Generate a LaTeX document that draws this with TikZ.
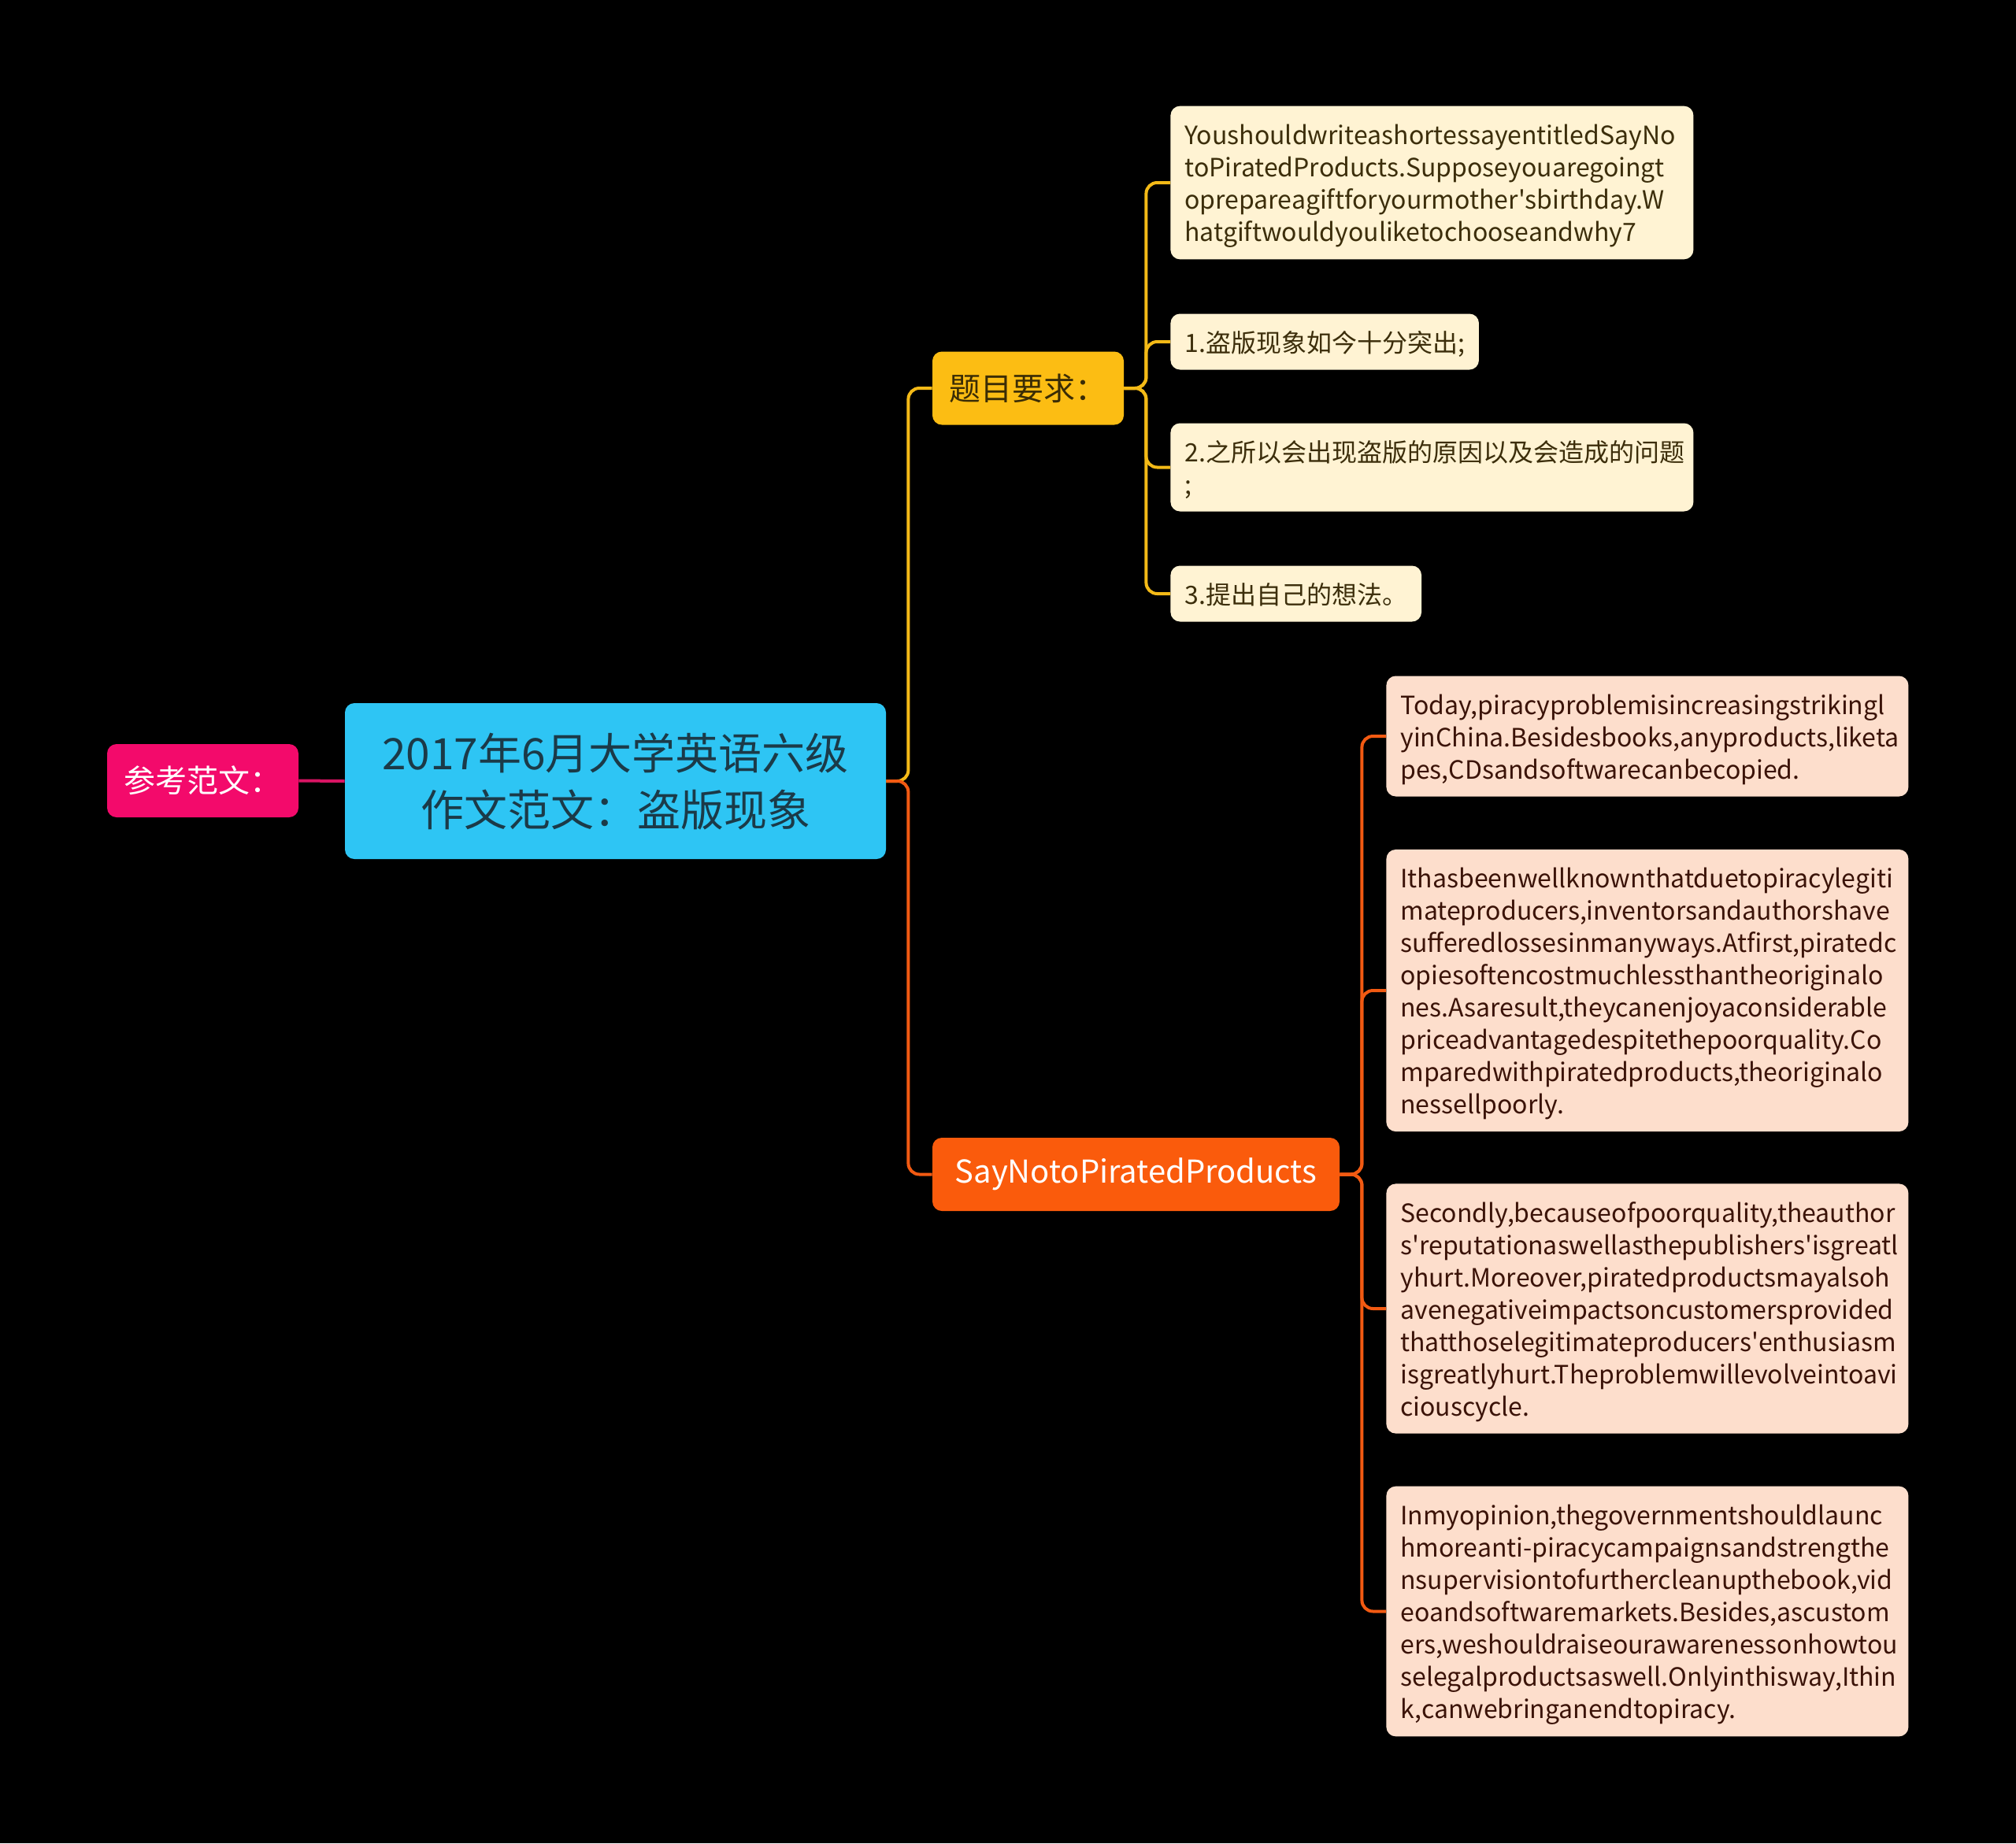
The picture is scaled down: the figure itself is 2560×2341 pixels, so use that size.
\documentclass[tikz,border=0pt]{standalone}
\usepackage{fontspec}
\setmainfont{Noto Sans CJK SC}

\definecolor{rootblue}{HTML}{2EC5F4}
\definecolor{roottext}{HTML}{1B3A48}
\definecolor{refpink}{HTML}{F30A6B}
\definecolor{askgold}{HTML}{FCBD13}
\definecolor{asktext}{HTML}{3A2C05}
\definecolor{sayorange}{HTML}{FA5B0C}
\definecolor{ycream}{HTML}{FFF3D3}
\definecolor{ybrown}{HTML}{3C2E0B}
\definecolor{opeach}{HTML}{FDDECC}
\definecolor{obrown}{HTML}{3B1308}
\definecolor{ycol}{HTML}{F4BA17}
\definecolor{ocol}{HTML}{F25A12}
\definecolor{pcol}{HTML}{D91463}

\begin{document}
\begin{tikzpicture}[x=0.5pt,y=-0.5pt,
  box/.style={rounded corners=6pt,inner sep=0pt,align=center},
  root/.style={box,fill=rootblue,text=roottext,minimum width=343.5pt,minimum height=99pt,
    font=\fontsize{27.5pt}{36pt}\selectfont},
  topic/.style={box,minimum height=46.5pt,font=\fontsize{20pt}{24pt}\selectfont},
  leaf/.style={rounded corners=6pt,anchor=west,align=left,inner xsep=9pt,inner ysep=7.5pt,
    font=\fontsize{16pt}{20.5pt}\selectfont,
    execute at begin node=\rule{0pt}{16.85pt},execute at end node=\rule[-3.65pt]{0pt}{3.65pt}},
  yleaf/.style={leaf,fill=ycream,text=ybrown},
  oleaf/.style={leaf,fill=opeach,text=obrown,text width=313.5pt},
  wide/.style={text width=314pt},
  link/.style={line width=2pt,rounded corners=7pt}]
 \fill[black] (0,0) rectangle (2560,2341);
 % centre and left
 \node[root] (root) at (781.5,992) {2017年6月大学英语六级\\作文范文：盗版现象};
 \node[topic,fill=refpink,text=white,minimum width=121.5pt] (ref) at (257.5,991.5) {参考范文：};
 % the two branches
 \node[topic,fill=askgold,text=asktext,minimum width=121.5pt] (ask) at (1305.5,493) {题目要求：};
 \node[topic,fill=sayorange,text=white,minimum width=258.5pt] (say) at (1442.5,1491.5) {SayNotoPiratedProducts};
 % task items
 \node[yleaf,wide] (y1) at (1486,232) {YoushouldwriteashortessayentitledSayNo\\toPiratedProducts.Supposeyouaregoingt\\oprepareagiftforyourmother\textquotesingle sbirthday.W\\hatgiftwouldyouliketochooseandwhy7};
 \node[yleaf] (y2) at (1486,434) {1.盗版现象如今十分突出;};
 \node[yleaf,wide] (y3) at (1486,593.5) {2.之所以会出现盗版的原因以及会造成的问题\\;};
 \node[yleaf] (y4) at (1486,754) {3.提出自己的想法。};
 % essay paragraphs
 \node[oleaf] (o1) at (1760,935) {Today,piracyproblemisincreasingstrikingl\\yinChina.Besidesbooks,anyproducts,liketa\\pes,CDsandsoftwarecanbecopied.};
 \node[oleaf] (o2) at (1760,1258) {Ithasbeenwellknownthatduetopiracylegiti\\mateproducers,inventorsandauthorshave\\sufferedlossesinmanyways.Atfirst,piratedc\\opiesoftencostmuchlessthantheoriginalo\\nes.Asaresult,theycanenjoyaconsiderable\\priceadvantagedespitethepoorquality.Co\\mparedwithpiratedproducts,theoriginalo\\nessellpoorly.};
 \node[oleaf] (o3) at (1760,1662) {Secondly,becauseofpoorquality,theauthor\\s\textquotesingle reputationaswellasthepublishers\textquotesingle isgreatl\\yhurt.Moreover,piratedproductsmayalsoh\\avenegativeimpactsoncustomersprovided\\thatthoselegitimateproducers\textquotesingle enthusiasm\\isgreatlyhurt.Theproblemwillevolveintoavi\\ciouscycle.};
 \node[oleaf] (o4) at (1760,2046.5) {Inmyopinion,thegovernmentshouldlaunc\\hmoreanti-piracycampaignsandstrengthe\\nsupervisiontofurthercleanupthebook,vid\\eoandsoftwaremarkets.Besides,ascustom\\ers,weshouldraiseourawarenessonhowtou\\selegalproductsaswell.Onlyinthisway,Ithin\\k,canwebringanendtopiracy.};
 % connectors
 \draw[pcol,line width=2pt] (ref.east) -- (root.west);
 \draw[ycol,link] (root.east) -- ([xshift=14pt]root.east) |- (ask.west);
 \draw[ocol,link] (root.east) -- ([xshift=14pt]root.east) |- (say.west);
 \foreach \n in {y1,y2,y3,y4}
   \draw[ycol,link] (ask.east) -- ([xshift=14pt]ask.east) |- (\n.west);
 \foreach \n in {o1,o2,o3,o4}
   \draw[ocol,link] (say.east) -- ([xshift=14pt]say.east) |- (\n.west);
\end{tikzpicture}
\end{document}
